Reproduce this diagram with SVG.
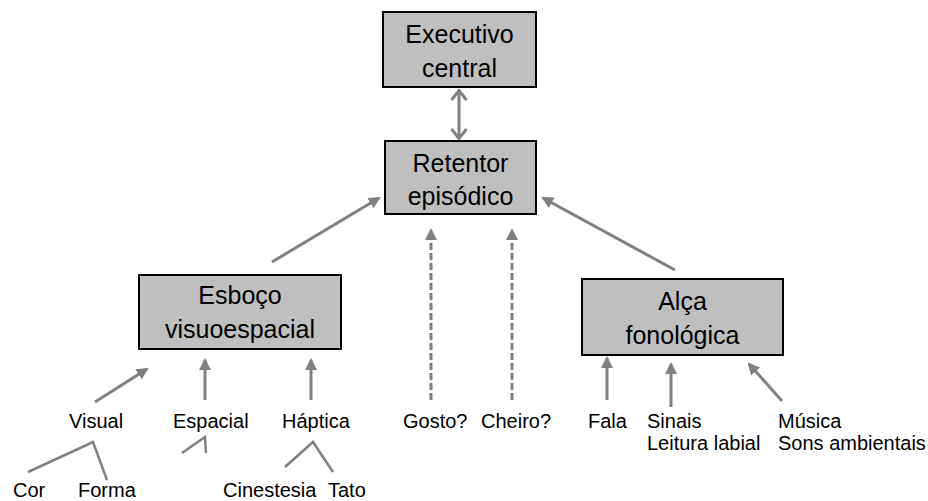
<svg xmlns="http://www.w3.org/2000/svg" width="928" height="501" viewBox="0 0 928 501">
<style>
.box{fill:#bfbfbf;stroke:#000;stroke-width:2}
.bt{font-family:"Liberation Sans",Arial,sans-serif;font-size:25px;fill:#000;text-anchor:middle}
.lb{font-family:"Liberation Sans",Arial,sans-serif;font-size:20px;fill:#000}
.c{stroke:#808080;stroke-width:3;fill:none}
.a{marker-end:url(#ah)}
.d{stroke-dasharray:7,3}
.t{stroke:#808080;stroke-width:2.5;fill:none}
</style>
<defs>
<marker id="ah" viewBox="0 0 12 12" refX="10" refY="6" markerWidth="12" markerHeight="12" markerUnits="userSpaceOnUse" orient="auto">
<path d="M0,0 L12,6 L0,12 z" fill="#808080"/>
</marker>
<marker id="ch" viewBox="0 0 12 18" refX="11" refY="9" markerWidth="12" markerHeight="18" markerUnits="userSpaceOnUse" orient="auto-start-reverse">
<path d="M1,1.5 L10.5,9 L1,16.5" fill="none" stroke="#808080" stroke-width="3"/>
</marker>
</defs>
<g id="connectors">
<line class="c" x1="459" y1="90" x2="459" y2="139" marker-start="url(#ch)" marker-end="url(#ch)"/>
<line class="c a" x1="272" y1="262" x2="379" y2="198"/>
<line class="c a" x1="675" y1="270" x2="543" y2="198"/>
<line class="c a d" x1="431" y1="400" x2="431" y2="230"/>
<line class="c a d" x1="512" y1="400" x2="512" y2="230"/>
<line class="c a" x1="95" y1="402" x2="147" y2="369"/>
<line class="c a" x1="205" y1="400" x2="205" y2="360"/>
<line class="c a" x1="311" y1="400" x2="311" y2="360"/>
<line class="c a" x1="607" y1="400" x2="607" y2="358"/>
<line class="c a" x1="671" y1="407" x2="671" y2="364"/>
<line class="c a" x1="782" y1="401" x2="749" y2="364"/>
<polyline class="t" points="28,472 93,442 107,480"/>
<polyline class="t" points="182,453 205,437 206,453"/>
<polyline class="t" points="285,467 313,442 333,472"/>
</g>
<g id="executivo">
<rect class="box" x="383" y="12" width="153" height="75"/>
<text class="bt" x="459.5" y="43">Executivo</text>
<text class="bt" x="459.5" y="77">central</text>
</g>
<g id="retentor">
<rect class="box" x="385" y="141" width="151" height="73"/>
<text class="bt" x="460.5" y="172">Retentor</text>
<text class="bt" x="460.5" y="205">episódico</text>
</g>
<g id="esboco">
<rect class="box" x="139" y="275" width="202" height="74"/>
<text class="bt" x="240" y="304">Esboço</text>
<text class="bt" x="240" y="338">visuoespacial</text>
</g>
<g id="alca">
<rect class="box" x="582" y="279" width="201" height="76"/>
<text class="bt" x="682.5" y="310">Alça</text>
<text class="bt" x="682.5" y="344">fonológica</text>
</g>
<g id="labels">
<text class="lb" x="69" y="428">Visual</text>
<text class="lb" x="173" y="428">Espacial</text>
<text class="lb" x="282" y="428">Háptica</text>
<text class="lb" x="13" y="497">Cor</text>
<text class="lb" x="78" y="497">Forma</text>
<text class="lb" x="223" y="497">Cinestesia</text>
<text class="lb" x="328" y="497">Tato</text>
<text class="lb" x="403" y="428">Gosto?</text>
<text class="lb" x="481" y="428">Cheiro?</text>
<text class="lb" x="588" y="428">Fala</text>
<text class="lb" x="647" y="428">Sinais</text>
<text class="lb" x="647" y="450">Leitura labial</text>
<text class="lb" x="778" y="428">Música</text>
<text class="lb" x="778" y="450">Sons ambientais</text>
</g>
</svg>
